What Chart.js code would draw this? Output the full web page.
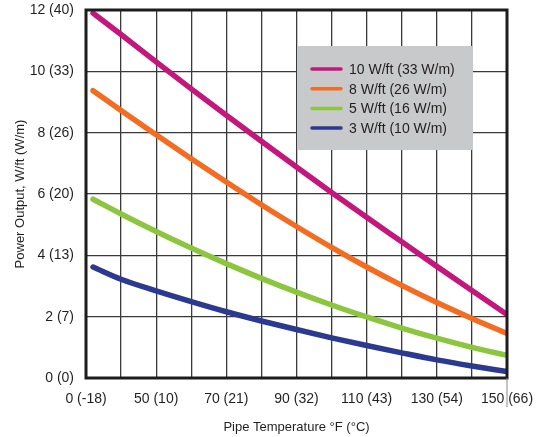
<!DOCTYPE html>
<html>
<head>
<meta charset="utf-8">
<script src="https://cdn.jsdelivr.net/npm/chart.js@4/dist/chart.umd.min.js"></script>
<style>
  html, body { margin: 0; padding: 0; background: #fff; }
  #wrap { width: 549px; height: 437px; }
</style>
</head>
<body>
<div id="wrap"><canvas id="chart" width="549" height="437"></canvas></div>
<script>
// Pipe temperature (°F) and power output (W/ft) for each cable rating
const tempF = [32, 40, 50, 60, 70, 80, 90, 100, 110, 120, 130, 140, 150];
const out10 = [11.9, 11.2, 10.31, 9.43, 8.57, 7.72, 6.88, 6.05, 5.24, 4.44, 3.64, 2.85, 2.07];
const out8 = [9.37, 8.72, 7.93, 7.15, 6.39, 5.65, 4.94, 4.26, 3.62, 3.02, 2.46, 1.94, 1.45];
const out5 = [5.83, 5.35, 4.78, 4.24, 3.73, 3.25, 2.8, 2.38, 1.99, 1.63, 1.3, 1.0, 0.74];
const out3 = [3.62, 3.22, 2.84, 2.49, 2.16, 1.86, 1.58, 1.31, 1.06, 0.82, 0.59, 0.39, 0.21];

const seriesLabels = ['10 W/ft (33 W/m)', '8 W/ft (26 W/m)', '5 W/ft (16 W/m)', '3 W/ft (10 W/m)'];
const seriesColors = ['#c4177c', '#f36c21', '#8cc63f', '#2b3990'];

// Tick labels
const xTickValues = [30, 50, 70, 90, 110, 130, 150];
const xTickLabels = ['0 (-18)', '50 (10)', '70 (21)', '90 (32)', '110 (43)', '130 (54)', '150 (66)'];
const yTickLabels = ['0 (0)', '2 (7)', '4 (13)', '6 (20)', '8 (26)', '10 (33)', '12 (40)'];

const FONT = "'Liberation Sans', Arial, sans-serif";
const TEXT = '#231f20';

const toPoints = (ys) => ys.map((y, i) => ({ x: tempF[i], y: y }));

// Frame round the plot plus the legend box inside it
const framePlugin = {
  id: 'frame',
  afterDatasetsDraw: (chart) => {
    const { ctx, chartArea: a } = chart;
    ctx.save();
    ctx.strokeStyle = '#1c1c1c';
    ctx.lineWidth = 3;
    ctx.strokeRect(a.left, a.top, a.right - a.left, a.bottom - a.top);

    // stray tick under the last x label
    const xr = chart.scales.x.getPixelForValue(150);
    ctx.strokeStyle = '#8a8a8a';
    ctx.lineWidth = 1;
    ctx.beginPath();
    ctx.moveTo(xr, a.bottom);
    ctx.lineTo(xr, a.bottom + 29);
    ctx.stroke();

    // legend
    const bx = a.left + 211, by = a.top + 36, bw = 176, bh = 104;
    ctx.fillStyle = '#c8c9cb';
    ctx.fillRect(bx, by, bw, bh);
    ctx.font = '14px ' + FONT;
    ctx.textBaseline = 'middle';
    ctx.textAlign = 'left';
    chart.data.datasets.forEach((ds, i) => {
      const y = by + 23 + i * 19.7;
      ctx.strokeStyle = ds.borderColor;
      ctx.lineWidth = 3.5;
      ctx.lineCap = 'round';
      ctx.beginPath();
      ctx.moveTo(bx + 15, y);
      ctx.lineTo(bx + 44, y);
      ctx.stroke();
      ctx.fillStyle = TEXT;
      ctx.fillText(ds.label, bx + 52, y + 1);
    });
    ctx.restore();
  }
};

const datasets = [out10, out8, out5, out3].map((ys, i) => ({
  label: seriesLabels[i],
  data: toPoints(ys),
  borderColor: seriesColors[i],
  backgroundColor: seriesColors[i],
  borderWidth: 5.5,
  borderCapStyle: 'round',
  pointRadius: 0,
  cubicInterpolationMode: 'monotone',
  fill: false
}));

new Chart(document.getElementById('chart'), {
  type: 'line',
  data: { datasets: datasets },
  plugins: [framePlugin],
  options: {
    responsive: false,
    animation: false,
    layout: { padding: { top: 10, right: 42, left: 0, bottom: 0 } },
    plugins: {
      legend: { display: false },
      tooltip: { enabled: false }
    },
    scales: {
      x: {
        type: 'linear',
        min: 30,
        max: 150,
        afterFit: (scale) => {
          scale.height = 59;
          scale.paddingLeft = 0;
          scale.paddingRight = 0;
        },
        grid: { color: '#3a3a3a', lineWidth: 1.3, drawTicks: false },
        border: { display: false },
        ticks: {
          stepSize: 10,
          padding: 13,
          maxRotation: 0,
          autoSkip: false,
          color: TEXT,
          font: { family: FONT, size: 14 },
          callback: (v) => {
            const i = xTickValues.indexOf(v);
            return i >= 0 ? xTickLabels[i] : '';
          }
        },
        title: {
          display: true,
          text: 'Pipe Temperature °F (°C)',
          color: TEXT,
          font: { family: FONT, size: 13 },
          padding: { top: 0, bottom: 2 }
        }
      },
      y: {
        min: 0,
        max: 12,
        afterFit: (scale) => {
          scale.width = 86;
          scale.paddingTop = 0;
          scale.paddingBottom = 0;
        },
        grid: { color: '#3a3a3a', lineWidth: 1.3, drawTicks: false },
        border: { display: false },
        ticks: {
          stepSize: 2,
          padding: 12,
          color: TEXT,
          font: { family: FONT, size: 14 },
          callback: (v) => yTickLabels[v / 2]
        },
        title: {
          display: true,
          text: 'Power Output, W/ft (W/m)',
          color: TEXT,
          font: { family: FONT, size: 13 },
          padding: { top: 13, bottom: 0 }
        }
      }
    }
  }
});
</script>
</body>
</html>
